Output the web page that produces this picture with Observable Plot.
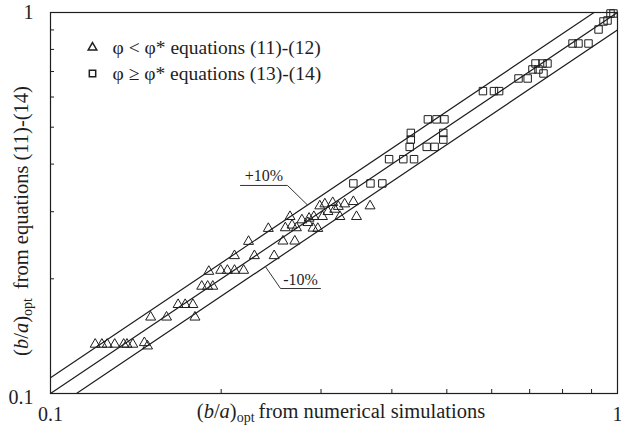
<!DOCTYPE html>
<html>
<head>
<meta charset="utf-8">
<script src="https://cdn.jsdelivr.net/npm/d3@7"></script>
<script src="https://cdn.jsdelivr.net/npm/@observablehq/plot@0.6"></script>
<style>
  html, body { margin: 0; padding: 0; background: #fff; }
  #chart svg { display: block; }
</style>
</head>
<body>
<div id="chart"></div>
<script>
// Optimal aspect ratio (b/a)opt: numerical simulations (x) vs. closed-form equations (y)

// φ < φ*, equations (11)-(12)
const triSim = [0.1199, 0.1232, 0.1259, 0.1298, 0.1346, 0.1364, 0.1397, 0.1464, 0.1483,
                0.1502, 0.1602, 0.1798,
                0.1679, 0.1728, 0.1783,
                0.1848, 0.1893, 0.1933,
                0.1902, 0.1996, 0.2051, 0.2111, 0.2191,
                0.2111, 0.2289, 0.2480,
                0.2235, 0.2570, 0.2697,
                0.2422, 0.2645, 0.2595, 0.2667, 0.2715, 0.2776, 0.2844, 0.2858, 0.2904,
                0.2914, 0.2985, 0.2961, 0.3018, 0.3047, 0.3086, 0.3146, 0.3172, 0.3218,
                0.3239, 0.3302, 0.3421, 0.3465, 0.3661];
const triEq  = [0.1346, 0.1346, 0.1346, 0.1346, 0.1346, 0.1346, 0.1346, 0.1359, 0.1332,
                0.1586, 0.1586, 0.1586,
                0.1711, 0.1711, 0.1711,
                0.1911, 0.1911, 0.1911,
                0.2091, 0.2104, 0.2104, 0.2104, 0.2104,
                0.2299, 0.2299, 0.2299,
                0.2506, 0.2511, 0.2511,
                0.2710, 0.2912, 0.2721, 0.2765, 0.2721, 0.2854, 0.2808, 0.2883, 0.2715,
                0.2912, 0.3106, 0.2710, 0.2912, 0.3143, 0.3001, 0.3169, 0.3043, 0.3096,
                0.2912, 0.3143, 0.3188, 0.2912, 0.3106];

// φ ≥ φ*, equations (13)-(14)
const sqSim = [0.3421, 0.3667, 0.3848,
               0.3955, 0.4190, 0.4377,
               0.4300, 0.4608, 0.4758,
               0.4320, 0.4320, 0.4929, 0.4929,
               0.4630, 0.4796, 0.4952,
               0.5790, 0.6055, 0.6183,
               0.6690, 0.6943,
               0.7080, 0.7255, 0.7404,
               0.7168, 0.7374, 0.7525,
               0.8331, 0.8535, 0.8889,
               0.9259, 0.9447, 0.9603, 0.9720, 0.9838];
const sqEq  = [0.3559, 0.3559, 0.3559,
               0.4121, 0.4121, 0.4121,
               0.4439, 0.4439, 0.4439,
               0.4639, 0.4830, 0.4639, 0.4830,
               0.5242, 0.5242, 0.5242,
               0.6218, 0.6218, 0.6218,
               0.6712, 0.6712,
               0.7087, 0.7087, 0.6918,
               0.7348, 0.7348, 0.7348,
               0.8291, 0.8291, 0.8291,
               0.9024, 0.9471, 0.9528, 0.9940, 0.9940];

const legendLabels = ["φ < φ* equations (11)-(12)", "φ ≥ φ* equations (13)-(14)"];

// reference lines y = k·x: +10 %, exact agreement, −10 %
const bandFactors = [1.1, 1, 0.9];
const lineEnds = [0.1, 1];

// call-outs for the ±10 % lines: text, leader arm (x from, x to, y), x where it meets the line
const bandLabels = ["+10%", "-10%"];
const bandLabelFactor = [1.1, 0.9];
const armStart = [0.2163, 0.2993];
const armEnd = [0.2618, 0.2545];
const armY = [0.3516, 0.1886];
const armTouch = [0.2840, 0.2393];

const majorTicks = [0.1, 1];
const minorTicks = [0.2, 0.3, 0.4, 0.5, 0.6, 0.7, 0.8, 0.9];

const serif = "'Liberation Serif', 'DejaVu Serif', serif";
const ink = "#1e1e1e";

const sims = triSim.map((x, i) => ({x, y: triEq[i]}));
const sqs = sqSim.map((x, i) => ({x, y: sqEq[i]}));
const lines = bandFactors.flatMap(k => lineEnds.map(x => ({k, x, y: k * x})));
const leaders = bandLabels.flatMap((t, i) => [
  {t, x: armStart[i], y: armY[i]},
  {t, x: armEnd[i], y: armY[i]},
  {t, x: armTouch[i], y: bandLabelFactor[i] * armTouch[i]}
]);
const labels = bandLabels.map((t, i) => ({t, x: Math.sqrt(armStart[i] * armEnd[i]), y: armY[i]}));

const chart = Plot.plot({
  width: 621,
  height: 428,
  marginLeft: 50,
  marginRight: 4,
  marginTop: 12,
  marginBottom: 35,
  style: {fontFamily: serif, color: ink, background: "#fff"},
  x: {type: "log", domain: [0.1, 1], label: null},
  y: {type: "log", domain: [0.1, 1], label: null},
  marks: [
    Plot.line(lines, {x: "x", y: "y", z: "k", stroke: ink, strokeWidth: 1.2, clip: true}),
    Plot.line(leaders, {x: "x", y: "y", z: "t", stroke: "#333", strokeWidth: 1}),
    Plot.text(labels, {x: "x", y: "y", text: "t", lineAnchor: "bottom", dy: -4, fontSize: 16, fill: ink}),
    Plot.dot(sims, {x: "x", y: "y", symbol: "triangle", r: 3.7, stroke: ink, strokeWidth: 1, fill: "none"}),
    Plot.dot(sqs, {x: "x", y: "y", symbol: "square", r: 4.2, stroke: ink, strokeWidth: 1, fill: "none"}),
    // legend
    Plot.dot([legendLabels[0]], {frameAnchor: "top-left", dx: 42, dy: 35, symbol: "triangle", r: 3.2, stroke: ink, fill: "none"}),
    Plot.dot([legendLabels[1]], {frameAnchor: "top-left", dx: 42, dy: 61, symbol: "square", r: 3.6, stroke: ink, fill: "none"}),
    Plot.text([legendLabels[0]], {frameAnchor: "top-left", dx: 62, dy: 35, text: d => d, textAnchor: "start", lineAnchor: "middle", fontSize: 19.5, fill: ink}),
    Plot.text([legendLabels[1]], {frameAnchor: "top-left", dx: 62, dy: 61, text: d => d, textAnchor: "start", lineAnchor: "middle", fontSize: 19.5, fill: ink}),
    // axes: inward minor ticks, labels at the decades only
    Plot.axisX({ticks: minorTicks, tickSize: -4, tickFormat: () => "", label: null, stroke: ink}),
    Plot.axisY({ticks: minorTicks, tickSize: -4, tickFormat: () => "", label: null, stroke: ink}),
    Plot.axisX({ticks: majorTicks, tickSize: 0, tickPadding: 13, tickFormat: d => String(d), fontSize: 20, label: null}),
    Plot.axisY({ticks: [1], tickSize: 0, tickPadding: 17, tickFormat: d => String(d), fontSize: 20, label: null}),
    Plot.axisY({ticks: [0.1], tickSize: 0, tickPadding: 17, dy: 4, tickFormat: d => String(d), fontSize: 20, label: null}),
    Plot.frame({stroke: ink, strokeWidth: 1.2})
  ]
});

document.getElementById("chart").append(chart);

// axis titles with italic b, a and subscript "opt"
const svg = d3.select(chart);
function title(g, rest, gap) {
  const t = g.append("text")
    .attr("text-anchor", "middle")
    .attr("font-family", serif)
    .attr("font-size", 20.5)
    .attr("fill", ink);
  t.append("tspan").text("(");
  t.append("tspan").attr("font-style", "italic").text("b");
  t.append("tspan").text("/");
  t.append("tspan").attr("font-style", "italic").text("a");
  t.append("tspan").text(")");
  t.append("tspan").attr("font-size", 14).attr("dy", 4).text("opt");
  t.append("tspan").attr("dy", -4).attr("dx", gap).text(rest);
  return t;
}
title(svg.append("g").attr("transform", "translate(341,418)"), "from numerical simulations", 4);
title(svg.append("g").attr("transform", "translate(28,221) rotate(-90)"), "from equations (11)-(14)", 9);
</script>
</body>
</html>
